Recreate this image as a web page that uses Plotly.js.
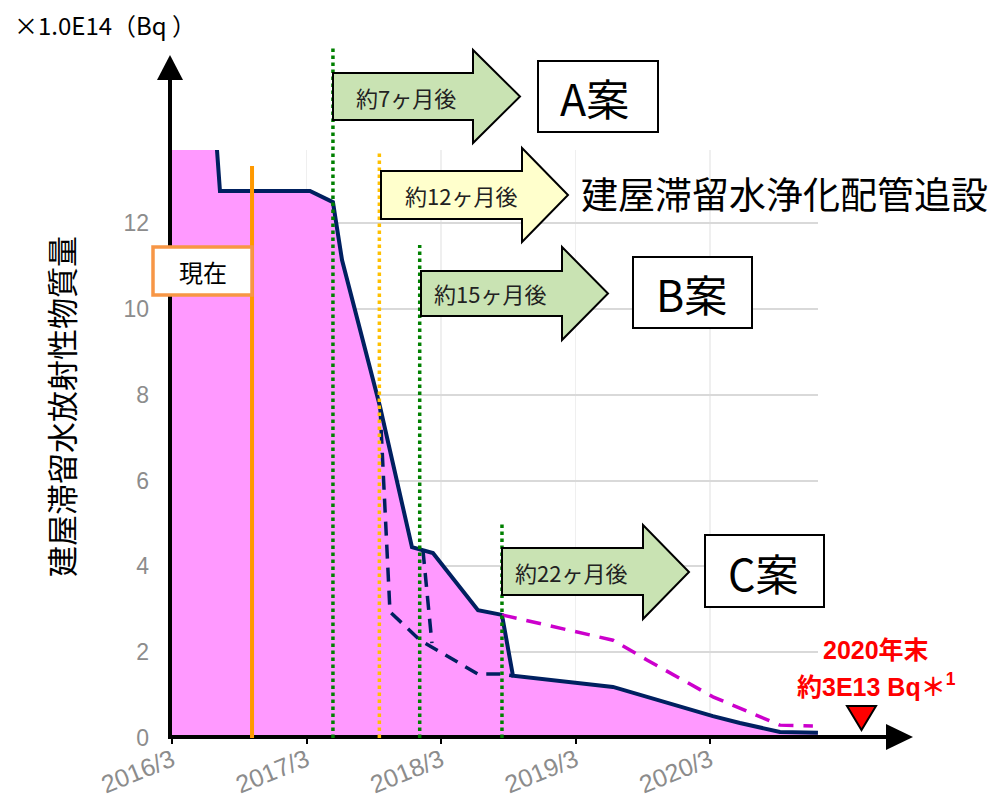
<!DOCTYPE html>
<html>
<head>
<meta charset="utf-8">
<script src="https://cdn.plot.ly/plotly-3.0.1.min.js"></script>
<style>html,body{margin:0;padding:0;background:#fff;}#chart{width:1000px;height:799px;}</style>
</head>
<body>
<div id="chart"></div>
<script>
// ---- data (x = months since 2016/3, y = ×1.0E14 Bq) ----
const tickMonths = [0, 12, 24, 36, 48];
const tickLabels = ['2016/3', '2017/3', '2018/3', '2019/3', '2020/3'];
const yTicks = [0, 2, 4, 6, 8, 10, 12];

const mainMonths = [0, 3.85, 4.28, 12.31, 14.36, 15.17, 18.56, 21.41, 23.28, 27.30, 29.44, 30.42, 39.34, 44.16, 48.26, 50.67, 54.24, 57.63];
const mainAmount = [14.3, 14.3, 12.75, 12.75, 12.49, 11.14, 7.72, 4.45, 4.31, 2.98, 2.87, 1.45, 1.19, 0.82, 0.51, 0.35, 0.14, 0.12];

const altMonthsA = [18.56, 19.45, 22.13, 27.30, 29.44, 30.42];
const altAmountA = [7.72, 2.94, 2.28, 1.49, 1.49, 1.45];

const altMonthsB = [22.39, 23.19];
const altAmountB = [4.38, 2.21];

const magMonths = [29.44, 39.34, 42.37, 48.26, 54.24, 57.18];
const magAmount = [2.87, 2.28, 1.82, 0.96, 0.30, 0.28];

const nowMonth = 7.14;
const planAMonth = 14.36;
const pipeMonth = 18.5;
const planBMonth = 22.1;
const planCMonth = 29.44;

const arrowLabels = ['約7ヶ月後', '約12ヶ月後', '約15ヶ月後', '約22ヶ月後'];
const planLabels = ['A案', 'B案', 'C案'];

// ---- layout geometry ----
const W = 1000, H = 799;
const ML = 172, MR = 182, MT = 150, MB = 61;
const PW = W - ML - MR, PH = H - MT - MB;
const PX_PER_MONTH = 134.5 / 12;
const PX_PER_UNIT = 42.9;
const XMAX = PW / PX_PER_MONTH;
const YMAX = PH / PX_PER_UNIT;
const xpp = px => (px - ML) / PW;
const ypp = py => (H - MB - py) / PH;
const mx = m => m / XMAX;   // month -> paper x

const JP = 'Noto Sans CJK JP, Noto Sans, sans-serif';
const LAT = 'Liberation Sans, Arial, Noto Sans CJK JP, sans-serif';

const traces = [
  {x: mainMonths, y: mainAmount, type: 'scatter', mode: 'lines', fill: 'tozeroy',
   fillcolor: '#FF99FF', line: {color: '#002060', width: 4}, hoverinfo: 'skip'},
  {x: altMonthsA, y: altAmountA, type: 'scatter', mode: 'lines',
   line: {color: '#002060', width: 3.5, dash: '14px,9px'}, hoverinfo: 'skip'},
  {x: altMonthsB, y: altAmountB, type: 'scatter', mode: 'lines',
   line: {color: '#002060', width: 3.5, dash: '14px,9px'}, hoverinfo: 'skip'},
  {x: magMonths, y: magAmount, type: 'scatter', mode: 'lines',
   line: {color: '#CC00CC', width: 3.5, dash: '15px,10px'}, hoverinfo: 'skip'}
];

function arrowPath(xl, xb, xt, bt, bb, ht, hb) {
  const yc = (ht + hb) / 2;
  const p = (x, y) => xpp(x).toFixed(5) + ',' + ypp(y).toFixed(5);
  return 'M' + p(xl, bt) + ' L' + p(xb, bt) + ' L' + p(xb, ht) + ' L' + p(xt, yc) +
         ' L' + p(xb, hb) + ' L' + p(xb, bb) + ' L' + p(xl, bb) + ' Z';
}
function triPath(pts) {
  return pts.map((q, i) => (i ? ' L' : 'M') + xpp(q[0]).toFixed(5) + ',' + ypp(q[1]).toFixed(5)).join('') + ' Z';
}
function rect(x0, y0, x1, y1, color, width, fill) {
  return {type: 'rect', xref: 'paper', yref: 'paper', x0: xpp(x0), x1: xpp(x1),
          y0: ypp(y1), y1: ypp(y0), line: {color: color, width: width}, fillcolor: fill, layer: 'above'};
}
function vline(m, topPx, color, width, dash) {
  return {type: 'line', xref: 'paper', yref: 'paper', x0: mx(m), x1: mx(m),
          y0: 0, y1: ypp(topPx), line: {color: color, width: width, dash: dash}, layer: 'above'};
}

const green = '#C9E3B3';
const shapes = [
  // axes with arrow heads
  {type: 'line', xref: 'paper', yref: 'paper', x0: xpp(170), x1: xpp(170), y0: ypp(738), y1: ypp(78),
   line: {color: '#000', width: 4}},
  {type: 'path', xref: 'paper', yref: 'paper', path: triPath([[157, 80], [170, 55], [183, 80]]),
   fillcolor: '#000', line: {width: 0}},
  {type: 'line', xref: 'paper', yref: 'paper', x0: xpp(168), x1: xpp(890), y0: ypp(737), y1: ypp(737),
   line: {color: '#000', width: 4}},
  {type: 'path', xref: 'paper', yref: 'paper', path: triPath([[886, 724], [913, 737], [886, 750]]),
   fillcolor: '#000', line: {width: 0}},
  // vertical event lines
  vline(nowMonth, 166, '#FF9900', 4, 'solid'),
  vline(planAMonth, 46, '#008000', 3.5, 'dot'),
  vline(pipeMonth, 150, '#FFC000', 3.5, 'dot'),
  vline(planBMonth, 245, '#008000', 3.5, 'dot'),
  vline(planCMonth, 523, '#008000', 3.5, 'dot'),
  // block arrows
  {type: 'path', xref: 'paper', yref: 'paper', path: arrowPath(333, 473, 520, 73, 120, 50, 143),
   fillcolor: green, line: {color: '#000', width: 2}},
  {type: 'path', xref: 'paper', yref: 'paper', path: arrowPath(381, 522, 568, 171, 219, 148, 242),
   fillcolor: '#FFFFCC', line: {color: '#000', width: 2}},
  {type: 'path', xref: 'paper', yref: 'paper', path: arrowPath(421, 562, 608, 271, 316, 247, 340),
   fillcolor: green, line: {color: '#000', width: 2}},
  {type: 'path', xref: 'paper', yref: 'paper', path: arrowPath(502, 643, 689, 548, 595, 525, 619),
   fillcolor: green, line: {color: '#000', width: 2}},
  // plan boxes
  rect(538, 61, 658, 132, '#000', 2, '#fff'),
  rect(633, 257, 752, 328, '#000', 2, '#fff'),
  rect(705, 535, 824, 607, '#000', 2, '#fff'),
  // now box
  rect(153, 247, 252, 295, '#F79646', 3.5, '#fff'),
  // red triangle
  {type: 'path', xref: 'paper', yref: 'paper', path: triPath([[847, 706], [876, 706], [861.5, 730]]),
   fillcolor: '#FF0000', line: {color: '#000', width: 2}}
];

function ann(text, x, y, size, color, family, extra) {
  return Object.assign({text: text, xref: 'paper', yref: 'paper', x: xpp(x), y: ypp(y),
    xanchor: 'center', yanchor: 'middle', showarrow: false,
    font: {size: size, color: color, family: family}}, extra || {});
}

const annotations = [
  ann('×1.0E14（Bq ）', 12, 25, 24, '#000', JP, {xanchor: 'left'}),
  ann('建屋滞留水放射性物質量', 60, 407, 31, '#000', JP, {textangle: -90}),
  ann(arrowLabels[0], 406, 97, 22, '#222', JP),
  ann(arrowLabels[1], 461, 195, 22, '#222', JP),
  ann(arrowLabels[2], 490, 293, 22, '#222', JP),
  ann(arrowLabels[3], 571, 572, 22, '#222', JP),
  ann(planLabels[0], 594, 97, 43, '#000', JP),
  ann(planLabels[1], 691, 293, 43, '#000', JP),
  ann(planLabels[2], 763, 572, 43, '#000', JP),
  ann('建屋滞留水浄化配管追設', 784, 193, 37, '#000', JP),
  ann('現在', 203, 271, 24, '#000', JP),
  ann('<b>2020年末</b>', 876, 650, 25, '#FF0000', LAT),
  ann('<b>約3E13 Bq＊<sup>1</sup></b>', 876, 685, 25, '#FF0000', LAT)
];

const layout = {
  width: W, height: H,
  margin: {l: ML, r: MR, t: MT, b: MB, pad: 0},
  paper_bgcolor: '#fff', plot_bgcolor: '#fff',
  showlegend: false,
  xaxis: {range: [0, XMAX], tickvals: tickMonths, ticktext: tickLabels, tickangle: -22,
          showline: false, zeroline: false, showgrid: true, gridcolor: '#EFEFEF', gridwidth: 1.5,
          ticks: 'outside', ticklen: 5, tickwidth: 2, tickcolor: '#000',
          ticklabelstandoff: -8,
          tickfont: {size: 25, color: '#8C8C8C', family: LAT}, fixedrange: true},
  yaxis: {range: [0, YMAX], tickvals: yTicks, showline: false, zeroline: false,
          showgrid: true, gridcolor: '#D9D9D9', gridwidth: 2, ticks: '',
          ticklabelstandoff: 22,
          tickfont: {size: 23, color: '#8C8C8C', family: LAT}, fixedrange: true},
  shapes: shapes,
  annotations: annotations
};

Plotly.newPlot('chart', traces, layout, {displayModeBar: false, staticPlot: true});
</script>
</body>
</html>
